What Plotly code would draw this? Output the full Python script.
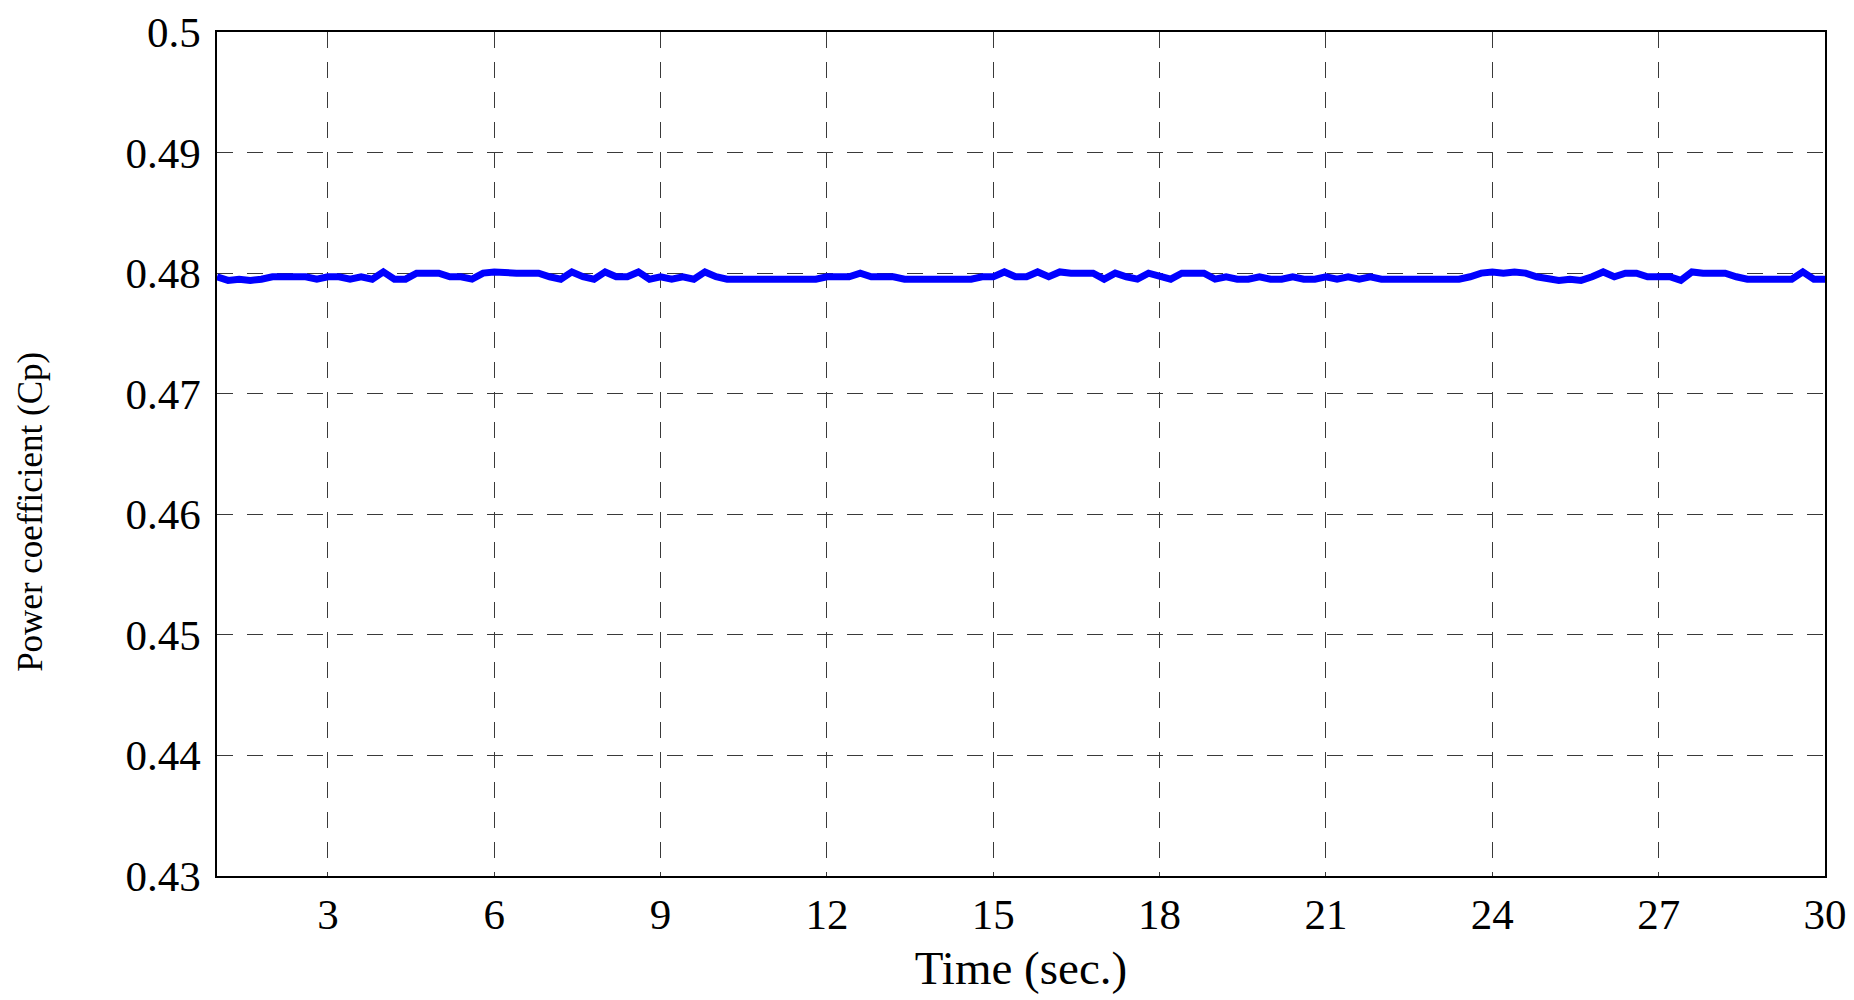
import plotly.graph_objects as go

# Power coefficient samples (every 0.2 s from 1.0 s to 30.0 s)
cp = [
    0.4797, 0.4794, 0.4795, 0.4794, 0.4795, 0.4797, 0.4797, 0.4797, 0.4797, 0.4795,
    0.4797, 0.4797, 0.4795, 0.4797, 0.4795, 0.4801, 0.4795, 0.4795, 0.4800, 0.4800,
    0.4800, 0.4797, 0.4797, 0.4795, 0.4800, 0.4801, 0.4800, 0.4800, 0.4800, 0.4800,
    0.4797, 0.4795, 0.4801, 0.4797, 0.4795, 0.4801, 0.4797, 0.4797, 0.4801, 0.4795,
    0.4797, 0.4795, 0.4797, 0.4795, 0.4801, 0.4797, 0.4795, 0.4795, 0.4795, 0.4795,
    0.4795, 0.4795, 0.4795, 0.4795, 0.4795, 0.4797, 0.4797, 0.4797, 0.4800, 0.4797,
    0.4797, 0.4797, 0.4795, 0.4795, 0.4795, 0.4795, 0.4795, 0.4795, 0.4795, 0.4797,
    0.4797, 0.4801, 0.4797, 0.4797, 0.4801, 0.4797, 0.4801, 0.4800, 0.4800, 0.4800,
    0.4795, 0.4800, 0.4797, 0.4795, 0.4800, 0.4797, 0.4795, 0.4800, 0.4800, 0.4800,
    0.4795, 0.4797, 0.4795, 0.4795, 0.4797, 0.4795, 0.4795, 0.4797, 0.4795, 0.4795,
    0.4797, 0.4795, 0.4797, 0.4795, 0.4797, 0.4795, 0.4795, 0.4795, 0.4795, 0.4795,
    0.4795, 0.4795, 0.4795, 0.4797, 0.4800, 0.4801, 0.4800, 0.4801, 0.4800, 0.4797,
    0.4795, 0.4794, 0.4795, 0.4794, 0.4797, 0.4801, 0.4797, 0.4800, 0.4800, 0.4797,
    0.4797, 0.4797, 0.4794, 0.4801, 0.4800, 0.4800, 0.4800, 0.4797, 0.4795, 0.4795,
    0.4795, 0.4794, 0.4795, 0.4801, 0.4795, 0.4795,
]
time_s = [round(1.0 + 0.2 * i, 1) for i in range(len(cp))]

x_ticks = [3, 6, 9, 12, 15, 18, 21, 24, 27, 30]
x_labels = ["3", "6", "9", "12", "15", "18", "21", "24", "27", "30"]
y_ticks = [0.43, 0.44, 0.45, 0.46, 0.47, 0.48, 0.49, 0.50]
y_labels = ["0.43", "0.44", "0.45", "0.46", "0.47", "0.48", "0.49", "0.5"]

FONT = "Liberation Serif, Times New Roman, serif"

fig = go.Figure()
fig.add_trace(go.Scatter(
    x=time_s, y=cp, mode="lines",
    line=dict(color="#0000FF", width=7),
    showlegend=False,
))

axis_common = dict(
    showline=True, linecolor="black", linewidth=1.5, mirror=True,
    showgrid=True, gridcolor="#3a3a3a", gridwidth=1, griddash="16px,14px",
    zeroline=False, ticks="", automargin=False,
    tickfont=dict(family=FONT, size=43, color="black"),
)

fig.update_layout(
    width=1846, height=992,
    paper_bgcolor="white", plot_bgcolor="white",
    margin=dict(l=209, r=29, t=24, b=124),
    font=dict(family=FONT, color="black"),
    xaxis=dict(
        range=[1, 30], tickvals=x_ticks, ticktext=x_labels,
        title=dict(text="Time (sec.)", font=dict(family=FONT, size=47, color="black"), standoff=14),
        **axis_common,
    ),
    yaxis=dict(
        range=[0.43, 0.50], tickvals=y_ticks, ticktext=y_labels,
        ticklabelstandoff=6,
        **axis_common,
    ),
    annotations=[dict(
        text="Power coefficient (Cp)", textangle=-90,
        xref="paper", yref="paper", x=-0.116, y=0.432,
        xanchor="center", yanchor="middle", showarrow=False,
        font=dict(family=FONT, size=35, color="black"),
    )],
)

fig.write_html("out.html")
